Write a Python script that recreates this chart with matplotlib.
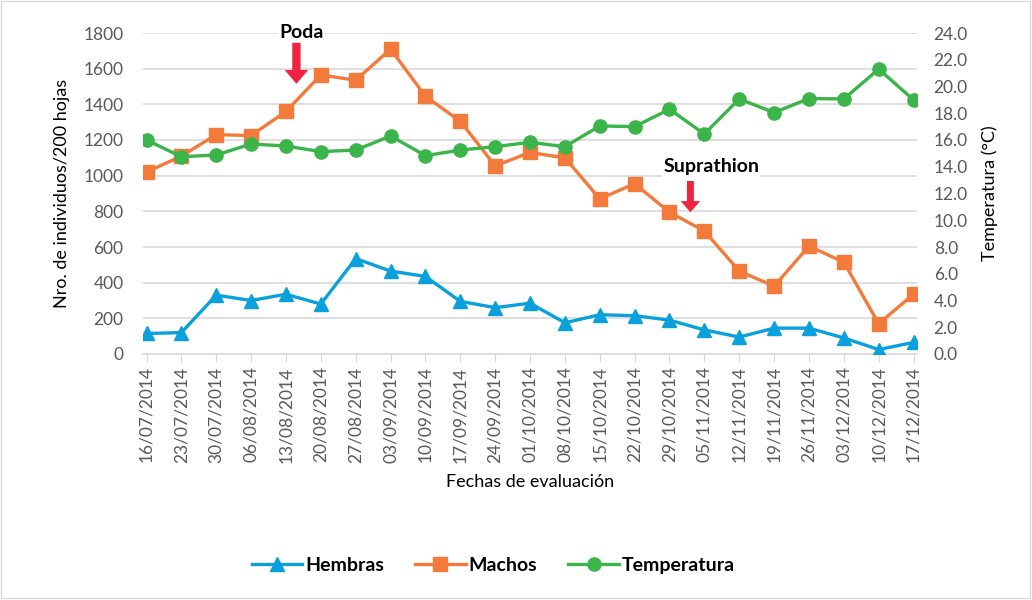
import matplotlib.pyplot as plt
from matplotlib.patches import Rectangle

plt.rcParams['font.family'] = ['Lato', 'DejaVu Sans']

fechas = ["16/07/2014", "23/07/2014", "30/07/2014", "06/08/2014", "13/08/2014",
          "20/08/2014", "27/08/2014", "03/09/2014", "10/09/2014", "17/09/2014",
          "24/09/2014", "01/10/2014", "08/10/2014", "15/10/2014", "22/10/2014",
          "29/10/2014", "05/11/2014", "12/11/2014", "19/11/2014", "26/11/2014",
          "03/12/2014", "10/12/2014", "17/12/2014"]
hembras = [115, 120, 330, 300, 335, 280, 535, 465, 435, 295, 260, 285,
           175, 220, 215, 190, 135, 95, 145, 145, 90, 25, 65]
machos = [1020, 1110, 1230, 1225, 1360, 1565, 1535, 1710, 1445, 1305, 1055, 1130,
          1100, 870, 955, 795, 690, 465, 380, 605, 515, 170, 335]
temperatura = [16.0, 14.75, 14.88, 15.7, 15.55, 15.13, 15.25, 16.3, 14.83, 15.25,
               15.5, 15.83, 15.5, 17.05, 17.0, 18.3, 16.45, 19.07, 18.05, 19.1,
               19.07, 21.3, 19.0]

azul = '#0aa0dc'
naranja = '#f47a3c'
verde = '#3bb44a'
gris = '#595959'

fig = plt.figure(figsize=(10.32, 6), dpi=100)
ax = fig.add_axes([0.1386, 0.41, 0.75, 0.535])
x = list(range(len(fechas)))

l1, = ax.plot(x, hembras, color=azul, lw=2.4, marker='^', ms=9.5, label='Hembras', zorder=3)
l2, = ax.plot(x, machos, color=naranja, lw=2.4, marker='s', ms=9.5, label='Machos', zorder=3)
ax.set_ylim(0, 1800)
ax.set_yticks(range(0, 1801, 200))
ax.set_xlim(-0.1, 22.1)
ax.set_xticks(x)
ax.set_xticklabels(fechas, rotation=90)
ax.grid(axis='y', color='#d9d9d9', lw=1.2)
ax.set_axisbelow(True)
for s in ['top', 'right', 'left']:
    ax.spines[s].set_visible(False)
ax.spines['bottom'].set_color('#d9d9d9')
ax.spines['bottom'].set_linewidth(1.2)
ax.tick_params(axis='y', length=0, labelsize=12.5, colors=gris, pad=14)
ax.tick_params(axis='x', length=6, color='#d9d9d9', labelsize=12.5, labelcolor=gris, pad=3)
ax.set_ylabel("Nro. de individuos/200 hojas", fontsize=13, labelpad=10)
ax.set_xlabel("Fechas de evaluación", fontsize=13, labelpad=8)

ax2 = ax.twinx()
l3, = ax2.plot(x, temperatura, color=verde, lw=2.4, marker='o', ms=9.5, label='Temperatura', zorder=3)
ax2.set_ylim(0, 24)
ax2.set_yticks(range(0, 25, 2))
ax2.set_yticklabels([f"{v:.1f}" for v in range(0, 25, 2)])
for s in ['top', 'right', 'left', 'bottom']:
    ax2.spines[s].set_visible(False)
ax2.tick_params(axis='y', length=0, labelsize=12.5, colors=gris, pad=12)
ax2.set_ylabel("Temperatura (°C)", fontsize=13, labelpad=10)

# anotaciones
ax.text(4.45, 1800, "Poda", fontsize=14, fontweight='bold', ha='center', va='center',
        bbox=dict(facecolor='white', edgecolor='none', pad=1), zorder=5)
ax.annotate("", xy=(4.3, 1515), xytext=(4.3, 1745),
            arrowprops=dict(facecolor='#ee2440', edgecolor='none', width=6,
                            headwidth=17, headlength=10), zorder=5)
ax.text(16.2, 1050, "Suprathion", fontsize=14, fontweight='bold', ha='center', va='center',
        bbox=dict(facecolor='white', edgecolor='none', pad=1), zorder=5)
ax.annotate("", xy=(15.6, 795), xytext=(15.6, 970),
            arrowprops=dict(facecolor='#ee2440', edgecolor='none', width=5,
                            headwidth=14, headlength=8), zorder=5)

leg = fig.legend([l1, l2, l3], ['Hembras', 'Machos', 'Temperatura'], loc='center',
                 bbox_to_anchor=(0.478, 0.058), ncol=3, frameon=False,
                 prop={'weight': 'bold', 'size': 14}, handlelength=2.6,
                 columnspacing=1.6, handletextpad=0.15)

fig.patches.append(Rectangle((0.001, 0.003), 0.997, 0.995, transform=fig.transFigure,
                             fill=False, edgecolor='#d9d9d9', lw=1))

fig.savefig('out.png', dpi=100)
